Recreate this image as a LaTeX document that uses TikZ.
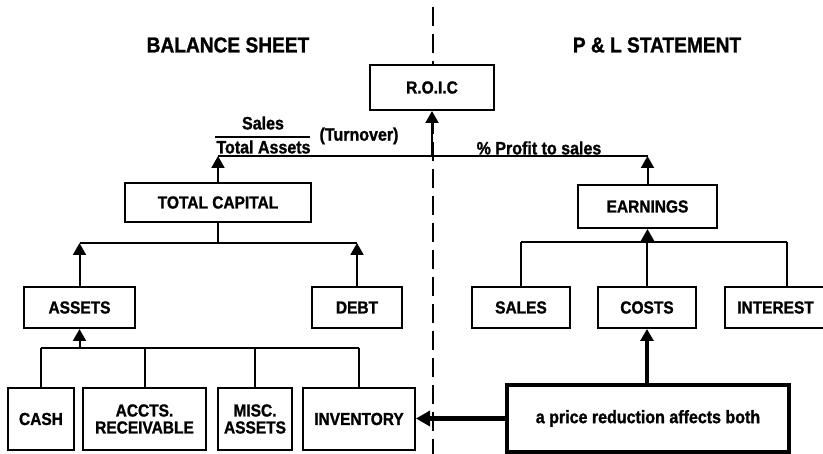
\documentclass[tikz,border=0pt]{standalone}
\usepackage{fontspec}
\setmainfont{Liberation Sans}
\newfontfamily\diagfont{Liberation Sans}[FakeStretch=0.89, FakeBold=1.2]
\usetikzlibrary{arrows.meta}
\begin{document}
\begin{tikzpicture}[x=1bp,y=-1bp,
  box/.style={draw, line width=2bp, fill=white, inner sep=0pt, align=center,
    font=\diagfont\bfseries\fontsize{17.4bp}{17bp}\selectfont},
  heavybox/.style={box, line width=4.5bp, font=\diagfont\bfseries\fontsize{18bp}{18bp}\selectfont},
  lbl/.style={inner sep=0pt, font=\diagfont\bfseries\fontsize{18bp}{18bp}\selectfont},
  head/.style={inner sep=0pt, font=\diagfont\bfseries\fontsize{21.5bp}{22bp}\selectfont},
  wire/.style={line width=2bp},
  tip/.style={wire, -{Triangle[width=13bp,length=12bp]}},
  bigtip/.style={line width=4.5bp, -{Triangle[width=15bp,length=14bp]}},
  divider/.style={line width=2.2bp, dash pattern=on 19bp off 8bp, dash phase=20bp}]
\useasboundingbox (0,0) rectangle (823,454);

% divider between the two statements
\coordinate (dtop) at (433,0);
\coordinate (dbot) at (433,454);
\draw[divider] (dtop) -- (dbot);

% headings
\node[head] (bs) at (228,45) {BALANCE SHEET};
\node[head] (pl) at (657,45) {P \& L STATEMENT};

% boxes
\node[box, minimum width=124bp, minimum height=45bp] (roic) at (432,87.5) {R.O.I.C};
\node[box, minimum width=186bp, minimum height=39bp] (tcap) at (218,202.5) {TOTAL CAPITAL};
\node[box, minimum width=111bp, minimum height=41bp] (assets) at (79.5,307.5) {ASSETS};
\node[box, minimum width=90bp, minimum height=41bp] (debt) at (357,307.5) {DEBT};
\node[box, minimum width=66bp, minimum height=62bp] (cash) at (41,419) {CASH};
\node[box, minimum width=123bp, minimum height=62bp] (accts) at (144.5,419) {ACCTS.\\RECEIVABLE};
\node[box, minimum width=74bp, minimum height=62bp] (misc) at (255,419) {MISC.\\ASSETS};
\node[box, minimum width=112bp, minimum height=62bp] (inv) at (359,419) {INVENTORY};
\node[box, minimum width=139bp, minimum height=43bp] (earn) at (647.5,206.5) {EARNINGS};
\node[box, minimum width=98bp, minimum height=41bp] (sales) at (521,307.5) {SALES};
\node[box, minimum width=98bp, minimum height=41bp] (costs) at (647,307.5) {COSTS};
\node[box, minimum width=101bp, minimum height=41bp] (interest) at (775.5,307.5) {INTEREST};
\node[heavybox, minimum width=282bp, minimum height=67bp] (price) at (648,418.5) {a price reduction affects both};

% top level: turnover and margin feed R.O.I.C
\coordinate (tl) at (218,156);
\coordinate (tm) at (432,156);
\coordinate (tr) at (647.5,156);
\draw[wire] (tl) -- (tr);
\draw[tip] (tcap.north) -- (tl);
\draw[tip] (earn.north) -- (tr);
\draw[tip] (tm) -- (roic.south);

\node[lbl] (sales lbl) at (263,123) {Sales};
\coordinate (fl) at (215,137);
\coordinate (fr) at (310,137);
\draw[line width=1.6bp] (fl) -- (fr);
\node[lbl] (ta lbl) at (263.5,147) {Total Assets};
\node[lbl] (turn lbl) at (359,136) {(Turnover)};
\node[lbl] (pts lbl) at (539,148) {\% Profit to sales};

% total capital = assets + debt
\coordinate (b1) at (218,243);
\coordinate (b1l) at (79.5,243);
\coordinate (b1r) at (357,243);
\draw[wire] (tcap.south) -- (b1);
\draw[wire] (b1l) -- (b1r);
\draw[tip] (assets.north) -- (b1l);
\draw[tip] (debt.north) -- (b1r);

% assets breakdown
\coordinate (b2) at (79.5,348);
\coordinate (b2l) at (41,348);
\coordinate (b2r) at (359,348);
\draw[wire] (b2l) -- (b2r);
\draw[tip] (b2) -- (assets.south);
\draw[wire] (cash.north) -- (b2l);
\draw[wire] (accts.north) -- (accts.north |- b2);
\draw[wire] (misc.north) -- (misc.north |- b2);
\draw[wire] (inv.north) -- (b2r);

% earnings breakdown
\coordinate (b3) at (647.5,242);
\coordinate (b3l) at (521,242);
\coordinate (b3r) at (787,242);
\coordinate (intop) at (787,287);
\draw[wire] (b3l) -- (b3r);
\draw[tip] (b3) -- (earn.south);
\draw[wire] (sales.north) -- (b3l);
\draw[wire] (costs.north) -- (costs.north |- b3);
\draw[wire] (intop) -- (b3r);

% effect of a price reduction
\draw[bigtip, -{Triangle[width=13bp,length=12bp]}] (costs.south |- price.north) -- (costs.south);
\draw[bigtip] (price.west) -- (inv.east |- price.west);
\end{tikzpicture}
\end{document}
